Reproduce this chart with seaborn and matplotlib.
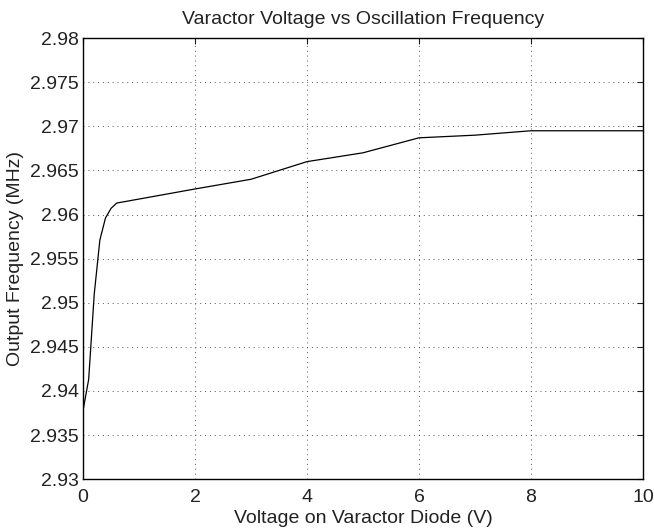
import numpy as np
import pandas as pd
import seaborn as sns
import matplotlib
matplotlib.use('Agg')
import matplotlib.pyplot as plt

# varactor voltage (V) and output frequency (MHz)
voltage = [0, 0.1, 0.2, 0.3, 0.4, 0.5, 0.6, 2, 3, 4, 5, 6, 7, 8, 9, 10]
freq = [2.9378, 2.9413, 2.9510, 2.9571, 2.9596, 2.9607, 2.9613, 2.9629, 2.9640,
        2.9660, 2.9670, 2.9687, 2.9690, 2.9695, 2.9695, 2.9695]

xticks = [0, 2, 4, 6, 8, 10]
yticks = [2.93, 2.935, 2.94, 2.945, 2.95, 2.955, 2.96, 2.965, 2.97, 2.975, 2.98]
ytickLabels = ['2.93', '2.935', '2.94', '2.945', '2.95', '2.955', '2.96', '2.965', '2.97', '2.975', '2.98']

df = pd.DataFrame({'Voltage': voltage, 'Freq': freq})

sns.set_style('white')
plt.rcParams['font.family'] = ['Liberation Sans', 'DejaVu Sans']

fig = plt.figure(figsize=(6.54, 5.30), dpi=100)
ax = fig.add_axes([0.127, 0.096, 0.856, 0.832])
sns.lineplot(data=df, x='Voltage', y='Freq', color='black', linewidth=0.9, ax=ax)

ax.set_xlim(0, 10)
ax.set_ylim(2.93, 2.98)
ax.set_xticks(xticks)
ax.set_xticklabels([str(t) for t in xticks])
ax.set_yticks(yticks)
ax.set_yticklabels(ytickLabels)
ax.grid(True, linestyle=(0, (1, 4)), color='#555555', linewidth=0.7)
ax.tick_params(direction='in', top=True, right=True, length=4, width=0.8,
               labelsize=14, colors='#222222')
ax.tick_params(axis='x', pad=7)
ax.tick_params(axis='y', pad=3)
for s in ax.spines.values():
    s.set_color('black')
    s.set_linewidth(1.0)

ax.set_xlabel('Voltage on Varactor Diode (V)', fontsize=14, labelpad=3, color='#222222')
ax.set_ylabel('Output Frequency (MHz)', fontsize=14, labelpad=4, color='#222222')
ax.set_title('Varactor Voltage vs Oscillation Frequency', fontsize=14, pad=10, color='#222222')

fig.savefig('out.png', dpi=100, facecolor='white')
